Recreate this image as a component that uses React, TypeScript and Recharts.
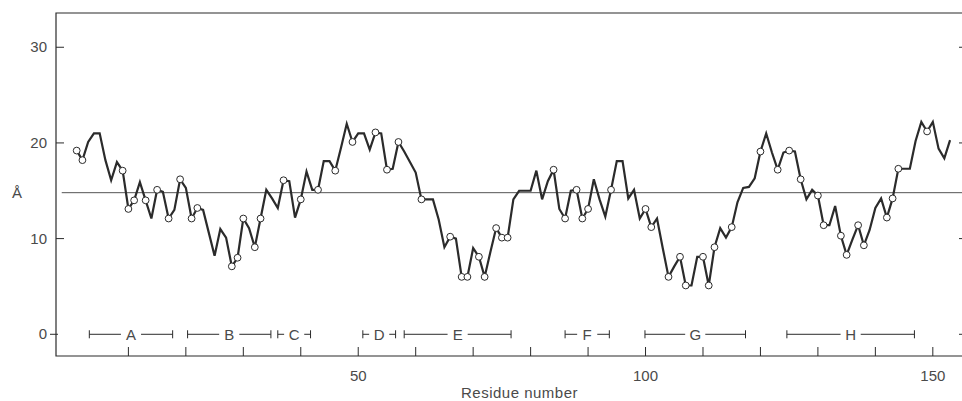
import { LineChart, Line, XAxis, YAxis, ReferenceLine, ReferenceArea, ReferenceDot } from 'recharts';

// per-residue values, residues 1..153
const residueValues = [
  19.2, 18.2, 20.1, 21.0, 21.0, 18.2, 16.1, 18.0, 17.1, 13.1,
  14.0, 15.9, 14.0, 12.1, 15.1, 14.9, 12.1, 13.0, 16.2, 15.3,
  12.1, 13.2, 13.0, 10.6, 8.2, 11.0, 10.1, 7.1, 8.0, 12.1,
  11.1, 9.1, 12.1, 15.1, 14.2, 13.2, 16.1, 16.0, 12.2, 14.1,
  17.0, 15.1, 15.1, 18.1, 18.1, 17.1, 19.5, 22.0, 20.1, 21.0,
  21.0, 19.3, 21.1, 21.0, 17.2, 17.3, 20.1, 19.1, 18.0, 16.9,
  14.1, 14.1, 14.1, 12.0, 9.1, 10.2, 10.0, 6.0, 6.0, 9.0,
  8.1, 6.0, 8.6, 11.1, 10.1, 10.1, 14.1, 15.0, 15.0, 15.0,
  17.1, 14.1, 16.0, 17.2, 13.1, 12.1, 15.0, 15.1, 12.1, 13.1,
  16.2, 14.1, 12.3, 15.1, 18.1, 18.1, 14.2, 15.1, 12.1, 13.1,
  11.2, 12.1, 9.0, 6.0, 7.1, 8.1, 5.1, 5.1, 8.1, 8.1,
  5.1, 9.1, 11.1, 10.1, 11.2, 13.8, 15.3, 15.4, 16.3, 19.1,
  21.0, 19.0, 17.2, 19.0, 19.2, 19.1, 16.2, 14.1, 15.1, 14.5,
  11.4, 11.4, 13.4, 10.3, 8.3, 9.9, 11.4, 9.3, 10.9, 13.2,
  14.2, 12.2, 14.2, 17.3, 17.3, 17.3, 20.2, 22.2, 21.2, 22.2,
  19.4, 18.4, 20.3,
];

const circledResidues = [
  1, 2, 9, 10, 11, 13, 15, 17, 19, 21, 22, 28, 29, 30, 32, 33, 37, 40, 43, 46, 49,
  53, 55, 57, 61, 66, 68, 69, 71, 72, 74, 75, 76, 84, 86, 88, 89, 90, 94, 100, 101,
  104, 106, 107, 110, 111, 112, 115, 120, 123, 125, 127, 130, 131, 134, 135, 137,
  138, 142, 143, 144, 149,
];

const helixNames = ['A', 'B', 'C', 'D', 'E', 'F', 'G', 'H'];
const helixStart = [3.2, 20.3, 36.0, 50.8, 58.0, 86.0, 99.9, 124.6];
const helixEnd = [17.7, 34.8, 41.7, 56.5, 76.6, 93.7, 117.4, 146.8];

const xTicks = [10, 20, 30, 40, 50, 60, 70, 80, 90, 100, 110, 120, 130, 140, 150];
const yTicks = [0, 10, 20, 30];
const meanLevel = 14.8;

const X_DOMAIN: [number, number] = [-2.6, 155.6];
const Y_DOMAIN: [number, number] = [-2.27, 33.58];
const INK = '#2b2b2b';
const TEXT = '#4a4a4a';
const FONT = '"Liberation Sans", Arial, sans-serif';

const data = residueValues.map((v, i) => ({ r: i + 1, v }));
const circled = new Set(circledResidues);

function BottomTick({ x, y, payload }: any) {
  const v = payload.value;
  return (
    <g>
      <line x1={x} x2={x} y1={y} y2={y - 9} stroke={INK} strokeWidth={1} />
      {v % 50 === 0 && (
        <text x={x} y={y + 25} textAnchor="middle" fontSize={15} fill={TEXT} fontFamily={FONT}>
          {v}
        </text>
      )}
    </g>
  );
}

function LeftTick({ x, y, payload }: any) {
  const zero = payload.value === 0;
  return (
    <g>
      <line x1={zero ? x - 6 : x} x2={zero ? x + 2 : x + 8} y1={y} y2={y} stroke={INK} strokeWidth={1} />
      <text x={x - 9} y={y + 5} textAnchor="end" fontSize={15} fill={TEXT} fontFamily={FONT}>
        {payload.value}
      </text>
    </g>
  );
}

function RightTick({ x, y }: any) {
  return <line x1={x - 6} x2={x} y1={y} y2={y} stroke={INK} strokeWidth={1} />;
}

function ResidueDot({ cx, cy, payload }: any) {
  if (!circled.has(payload.r)) return <g key={`d${payload.r}`} />;
  return (
    <circle key={`d${payload.r}`} cx={cx} cy={cy} r={3.4} fill="#fff" stroke={INK} strokeWidth={1} />
  );
}

const GAP = 1.75;

export default function App() {
  return (
    <div style={{ position: 'absolute', left: 0, top: 0, width: 962, height: 401, overflow: 'hidden', background: '#fff' }}>
      <LineChart width={975} height={401} data={data} margin={{ top: 13, right: 0, bottom: 0, left: 0 }}>
        <XAxis
          type="number"
          dataKey="r"
          domain={X_DOMAIN}
          allowDataOverflow
          ticks={xTicks}
          interval={0}
          height={45}
          tickSize={0}
          tickMargin={0}
          tickLine={false}
          axisLine={false}
          tick={<BottomTick />}
          label={{
            content: (p: any) => (
              <text
                x={p.viewBox.x + p.viewBox.width / 2 + 9}
                y={p.viewBox.y + 42}
                textAnchor="middle"
                fontSize={15}
                letterSpacing={0.5}
                fill={TEXT}
                fontFamily={FONT}
              >
                Residue number
              </text>
            ),
          }}
        />
        <YAxis
          type="number"
          domain={Y_DOMAIN}
          allowDataOverflow
          ticks={yTicks}
          interval={0}
          width={56}
          tickSize={0}
          tickMargin={0}
          tickLine={false}
          axisLine={false}
          tick={<LeftTick />}
          label={{
            content: (p: any) => (
              <text x={17} y={p.viewBox.y + 185} textAnchor="middle" fontSize={15} fill={TEXT} fontFamily={FONT}>
                Å
              </text>
            ),
          }}
        />
        <YAxis
          yAxisId="right"
          orientation="right"
          type="number"
          domain={Y_DOMAIN}
          allowDataOverflow
          ticks={yTicks}
          interval={0}
          width={10}
          tickSize={0}
          tickMargin={0}
          tickLine={false}
          axisLine={false}
          tick={<RightTick />}
        />
        <ReferenceArea
          x1={X_DOMAIN[0]}
          x2={X_DOMAIN[1]}
          y1={Y_DOMAIN[0]}
          y2={Y_DOMAIN[1]}
          fill="none"
          stroke={INK}
          strokeWidth={1.2}
          ifOverflow="visible"
        />
        <ReferenceLine
          segment={[{ x: -1.6, y: meanLevel }, { x: X_DOMAIN[1], y: meanLevel }]}
          stroke="#555"
          strokeWidth={1}
          ifOverflow="visible"
        />
        {helixNames.map((name, i) => {
          const s = helixStart[i];
          const e = helixEnd[i];
          const m = (s + e) / 2;
          return [
            <ReferenceLine key={`${name}l`} segment={[{ x: s, y: 0 }, { x: m - GAP, y: 0 }]} stroke={INK} strokeWidth={1} ifOverflow="visible" />,
            <ReferenceLine key={`${name}r`} segment={[{ x: m + GAP, y: 0 }, { x: e, y: 0 }]} stroke={INK} strokeWidth={1} ifOverflow="visible" />,
            <ReferenceLine key={`${name}s`} segment={[{ x: s, y: -0.42 }, { x: s, y: 0.42 }]} stroke={INK} strokeWidth={1} ifOverflow="visible" />,
            <ReferenceLine key={`${name}e`} segment={[{ x: e, y: -0.42 }, { x: e, y: 0.42 }]} stroke={INK} strokeWidth={1} ifOverflow="visible" />,
            <ReferenceDot
              key={`${name}t`}
              x={m}
              y={0}
              r={0}
              fill="none"
              stroke="none"
              ifOverflow="visible"
              label={{ value: name, position: 'center', fontSize: 15, fill: TEXT, fontFamily: FONT }}
            />,
          ];
        })}
        <Line
          type="linear"
          dataKey="v"
          stroke={INK}
          strokeWidth={2.2}
          strokeLinejoin="miter"
          dot={<ResidueDot />}
          activeDot={false}
          isAnimationActive={false}
        />
      </LineChart>
    </div>
  );
}
